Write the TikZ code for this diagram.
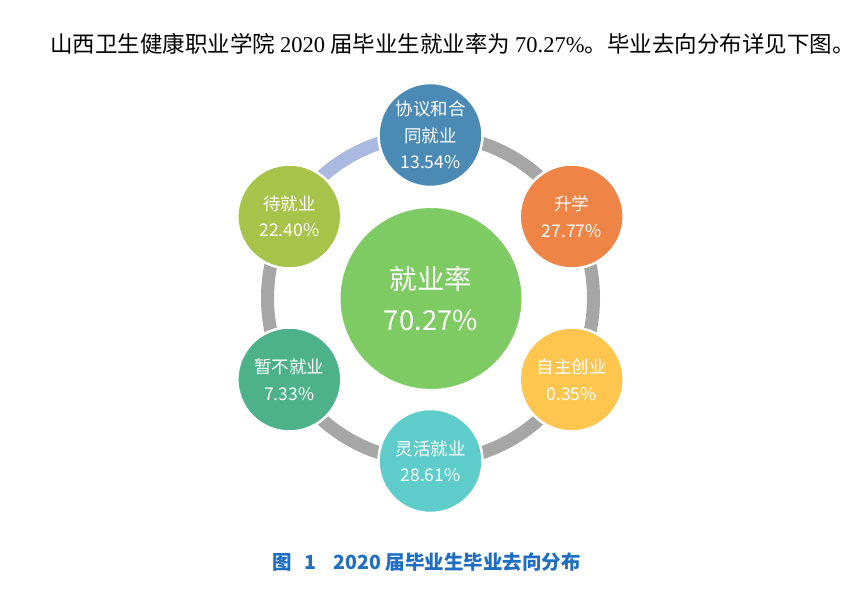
\documentclass[tikz,border=0pt]{standalone}
\usepackage{fontspec}
\setmainfont{Noto Sans CJK SC}
\newfontfamily\cjk{Noto Sans CJK SC}
\newfontfamily\serifnum{Liberation Serif}
\definecolor{ringgray}{HTML}{A6A6A6}
\definecolor{ringblue}{HTML}{AAB9DF}
\definecolor{cTop}{HTML}{4A8AB4}
\definecolor{cUR}{HTML}{EF8447}
\definecolor{cLR}{HTML}{FEC64F}
\definecolor{cBot}{HTML}{5ECCCB}
\definecolor{cLL}{HTML}{4DB289}
\definecolor{cUL}{HTML}{A8C34A}
\definecolor{cCenter}{HTML}{7ECB63}
\definecolor{capblue}{HTML}{1E6FC4}
\tikzset{
  outer/.style={circle, minimum size=104pt, inner sep=0pt, draw=white, line width=2.5pt,
    text=white, align=center, font=\cjk\fontsize{17.5}{26.5}\selectfont},
  centerc/.style={circle, minimum size=183pt, inner sep=0pt, draw=white, line width=2pt,
    fill=cCenter, text=white, align=center, font=\cjk\fontsize{27.5}{41}\selectfont},
  ring/.style={line width=13pt}
}
\begin{document}
\begin{tikzpicture}[x=1pt,y=1pt]
\useasboundingbox (0,0) rectangle (859,605);
\fill[white] (0,0) rectangle (859,605);
% title
\node[anchor=base west, inner sep=0pt, font=\cjk\fontsize{22.5}{26}\selectfont] (title) at (50,552)
  {山西卫生健康职业学院\hspace{5pt}{\serifnum 2020}\hspace{5pt}届毕业生就业率为\hspace{5pt}{\serifnum 70.27\%}。毕业去向分布详见下图。};
% ring
\coordinate (rc) at (430.5,307);
\draw[ring, ringgray] (rc) circle[radius=163];
\draw[ring, ringblue] ([shift={(90:163)}]rc) arc[start angle=90, end angle=150, radius=163];
% center
\node[centerc] (center) at (431,306.5) {就业率\\70.27\%};
% outer nodes
\node[outer, fill=cTop] (top) at ([shift={(90:163)}]rc) {协议和合\\同就业\\13.54\%};
\node[outer, fill=cUR] (ur) at ([shift={(30:163)}]rc) {升学\\27.77\%};
\node[outer, fill=cLR] (lr) at ([shift={(-30:163)}]rc) {自主创业\\0.35\%};
\node[outer, fill=cBot] (bot) at ([shift={(-90:163)}]rc) {灵活就业\\28.61\%};
\node[outer, fill=cLL] (ll) at ([shift={(210:163)}]rc) {暂不就业\\7.33\%};
\node[outer, fill=cUL] (ul) at ([shift={(150:163)}]rc) {待就业\\22.40\%};
% caption
\node[anchor=base west, inner sep=0pt, text=capblue, font=\cjk\bfseries\fontsize{19.5}{22}\selectfont] (cap) at (272,36)
  {图\hspace{13pt}1\hspace{17pt}2020 届毕业生毕业去向分布};
\end{tikzpicture}
\end{document}
